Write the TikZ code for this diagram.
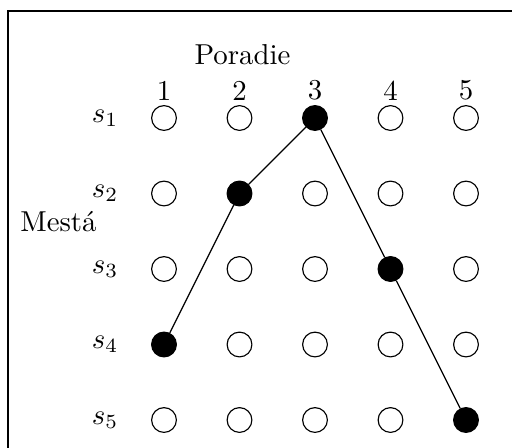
\documentclass[tikz,border=0pt]{standalone}
\begin{document}
\begin{tikzpicture}[x=0.347pt,y=-0.347pt,
  cell/.style={circle,draw,line width=0.4pt,minimum size=8.6pt,inner sep=0pt},
  chosen/.style={cell,fill=black},
  lbl/.style={inner sep=0pt},
  pathline/.style={line width=0.4pt}]
\useasboundingbox (0,0) rectangle (512,447);
\draw[line width=0.6pt] (8,11) rectangle (540,480);
\node[lbl] (por) at (242.5,54.5) {Poradie};
\node[lbl,anchor=base] (mes) at (58.5,231) {Mestá};
\foreach \i in {1,...,5} {
  \node[lbl] (c\i) at ({164+75.5*(\i-1)},90.5) {\i};
  \node[lbl,anchor=east] (s\i) at (119,{118+75.5*(\i-1)}) {$s_{\i}$};
}
\foreach \r/\sel in {1/3,2/2,3/4,4/1,5/5} {
  \foreach \c in {1,...,5} {
    \ifnum\c=\sel
      \node[chosen] (n\r\c) at ({164+75.5*(\c-1)},{118+75.5*(\r-1)}) {};
    \else
      \node[cell] (n\r\c) at ({164+75.5*(\c-1)},{118+75.5*(\r-1)}) {};
    \fi
  }
}
\draw[pathline] (n41) -- (n22) -- (n13) -- (n34) -- (n55);
\end{tikzpicture}
\end{document}
